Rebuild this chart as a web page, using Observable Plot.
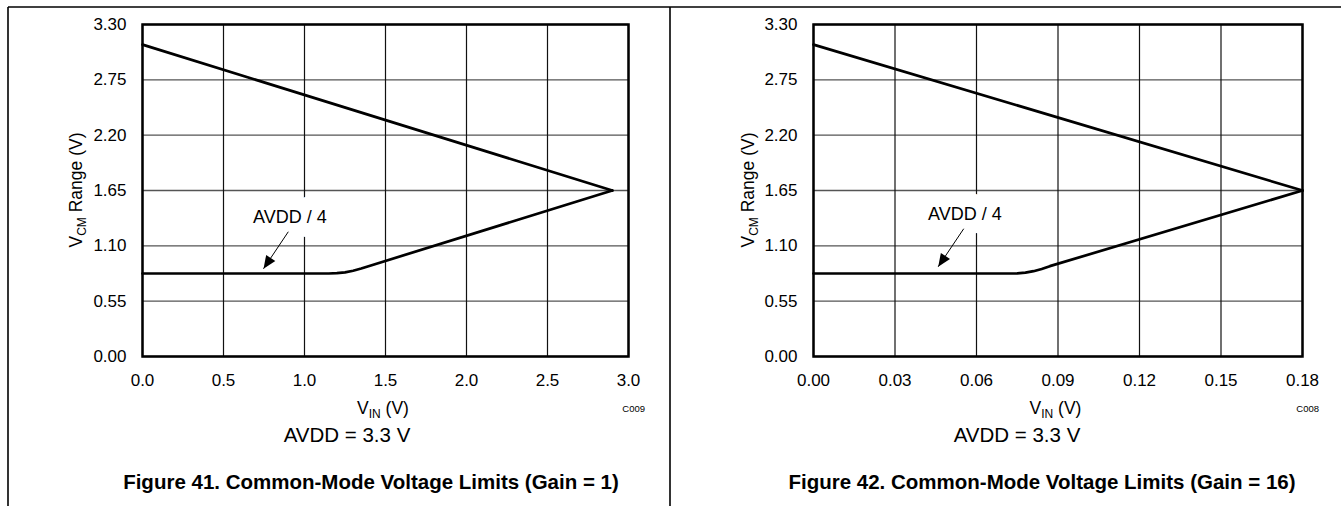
<!DOCTYPE html>
<html><head><meta charset="utf-8">
<script src="https://cdn.jsdelivr.net/npm/d3@7"></script>
<script src="https://cdn.jsdelivr.net/npm/@observablehq/plot@0.6"></script>
<style>
body{margin:0;background:#fff;}
#wrap{position:relative;width:1341px;height:506px;overflow:hidden;background:#fff;font-family:"Liberation Sans",Arial,sans-serif;}
#wrap > svg{position:absolute;}
</style></head><body>
<div id="wrap"></div>
<script>
// ---- data ----
const yTicks = [0, 0.55, 1.10, 1.65, 2.20, 2.75, 3.30];
const xTicks1 = [0, 0.5, 1.0, 1.5, 2.0, 2.5, 3.0];
const xTicks2 = [0, 0.03, 0.06, 0.09, 0.12, 0.15, 0.18];

const upper1X = [0, 2.9];
const upper1Y = [3.10, 1.65];
const lower1X = [0, 1.15, 1.20, 1.25, 1.30, 1.35, 1.40, 2.9];
const lower1Y = [0.825, 0.825, 0.828, 0.836, 0.852, 0.874, 0.900, 1.65];

const upper2X = [0, 0.18];
const upper2Y = [3.10, 1.65];
const lower2X = [0, 0.072, 0.075, 0.078, 0.081, 0.084, 0.087, 0.18];
const lower2Y = [0.825, 0.825, 0.827, 0.833, 0.848, 0.870, 0.898, 1.65];

const annotText = "AVDD / 4";
const annot1 = {tx: 0.91, ty: 1.385, x1: 0.90, y1: 1.24, x2: 0.747, y2: 0.872};
const annot2 = {tx: 0.0557, ty: 1.413, x1: 0.0553, y1: 1.27, x2: 0.0459, y2: 0.892};

const panels = [
  {left: 0, width: 670, mL: 142, mR: 42, xDomain: [0, 3.0], xTicks: xTicks1, fmt: ".1f",
   upX: upper1X, upY: upper1Y, loX: lower1X, loY: lower1Y, annot: annot1, code: "C009",
   yTitleX: 82, avddX: 347, capX: 371, caption: "Figure 41. Common-Mode Voltage Limits (Gain = 1)"},
  {left: 670, width: 671, mL: 143, mR: 39, xDomain: [0, 0.18], xTicks: xTicks2, fmt: ".2f",
   upX: upper2X, upY: upper2Y, loX: lower2X, loY: lower2Y, annot: annot2, code: "C008",
   yTitleX: 84, avddX: 1017, capX: 1042, caption: "Figure 42. Common-Mode Voltage Limits (Gain = 16)"}
];

const H = 430, mT = 24, mB = 74;
const wrap = document.getElementById("wrap");

function headSymbol(angle) {
  const L = 13, W = 5.5;
  const ux = Math.cos(angle), uy = Math.sin(angle);
  const nx = -uy, ny = ux;
  return {draw(ctx) {
    ctx.moveTo(0, 0);
    ctx.lineTo(-L * ux + W * nx, -L * uy + W * ny);
    ctx.lineTo(-L * ux - W * nx, -L * uy - W * ny);
    ctx.closePath();
  }};
}

for (const p of panels) {
  const xs = d3.scaleLinear(p.xDomain, [p.mL, p.width - p.mR]);
  const ys = d3.scaleLinear([0, 3.3], [H - mB, mT]);
  const a = p.annot;
  const ang = Math.atan2(ys(a.y2) - ys(a.y1), xs(a.x2) - xs(a.x1));
  const upper = p.upX.map((x, i) => ({x, y: p.upY[i]}));
  const lower = p.loX.map((x, i) => ({x, y: p.loY[i]}));
  const chart = Plot.plot({
    width: p.width, height: H,
    marginLeft: p.mL, marginRight: p.mR, marginTop: mT, marginBottom: mB,
    style: {fontFamily: '"Liberation Sans", Arial, sans-serif', fontSize: "17px", background: "transparent", overflow: "visible", color: "black"},
    x: {domain: p.xDomain, ticks: p.xTicks, tickFormat: d3.format(p.fmt), tickSize: 0, tickPadding: 17, label: null},
    y: {domain: [0, 3.3], ticks: yTicks, tickFormat: d3.format(".2f"), tickSize: 0, tickPadding: 16, label: null},
    marks: [
      Plot.ruleY(yTicks, {stroke: "#555", strokeWidth: 1.4}),
      Plot.ruleX(p.xTicks, {stroke: "#111", strokeWidth: 1.2}),
      Plot.text([a], {x: "tx", y: "ty", text: () => annotText, fontSize: 18, fill: "white", stroke: "white", strokeWidth: 28, strokeLinejoin: "round"}),
      Plot.line(upper, {x: "x", y: "y", stroke: "black", strokeWidth: 2.7}),
      Plot.line(lower, {x: "x", y: "y", stroke: "black", strokeWidth: 2.7}),
      Plot.link([a], {x1: "x1", y1: "y1", x2: "x2", y2: "y2", stroke: "black", strokeWidth: 1}),
      Plot.dot([a], {x: "x2", y: "y2", symbol: headSymbol(ang), fill: "black", stroke: "none"}),
      Plot.text([a], {x: "tx", y: "ty", text: () => annotText, fontSize: 18, fill: "black"}),
      Plot.frame({stroke: "black", strokeWidth: 2.5})
    ]
  });
  chart.style.left = p.left + "px";
  chart.style.top = "0px";
  const s = d3.select(chart);
  // y axis title
  const yt = s.append("text")
    .attr("transform", `translate(${p.yTitleX},${(mT + H - mB) / 2}) rotate(-90)`)
    .attr("text-anchor", "middle").attr("font-size", 17.5).attr("fill", "black");
  yt.append("tspan").text("V");
  yt.append("tspan").attr("font-size", 12).attr("dy", 4).text("CM");
  yt.append("tspan").attr("dy", -4).text(" Range (V)");
  // x axis title
  const xt = s.append("text")
    .attr("x", (p.mL + p.width - p.mR) / 2 - 2).attr("y", 414)
    .attr("text-anchor", "middle").attr("font-size", 17.5).attr("fill", "black");
  xt.append("tspan").text("V");
  xt.append("tspan").attr("font-size", 12).attr("dy", 4).text("IN");
  xt.append("tspan").attr("dy", -4).text(" (V)");
  // figure code
  s.append("text").attr("x", p.width - p.mR + 17).attr("y", 412)
    .attr("text-anchor", "end").attr("font-size", 9.5).attr("fill", "black").text(p.code);
  wrap.appendChild(chart);
}

// overlay: page frame and captions
const ov = d3.select(wrap).append("svg")
  .attr("width", 1341).attr("height", 506)
  .style("left", "0px").style("top", "0px")
  .style("font-family", '"Liberation Sans", Arial, sans-serif');
ov.append("line").attr("x1", 8).attr("x2", 8).attr("y1", 7).attr("y2", 506).attr("stroke", "black").attr("stroke-width", 1.6);
ov.append("line").attr("x1", 8).attr("x2", 1341).attr("y1", 7).attr("y2", 7).attr("stroke", "black").attr("stroke-width", 1.6);
ov.append("line").attr("x1", 670).attr("x2", 670).attr("y1", 7).attr("y2", 506).attr("stroke", "black").attr("stroke-width", 1.6);
for (const p of panels) {
  ov.append("text").attr("x", p.avddX).attr("y", 442).attr("text-anchor", "middle")
    .attr("font-size", 20.5).attr("fill", "black").text("AVDD = 3.3 V");
  ov.append("text").attr("x", p.capX).attr("y", 489).attr("text-anchor", "middle")
    .attr("font-size", 20.5).attr("font-weight", "bold").attr("fill", "black").text(p.caption);
}
</script>
</body></html>
